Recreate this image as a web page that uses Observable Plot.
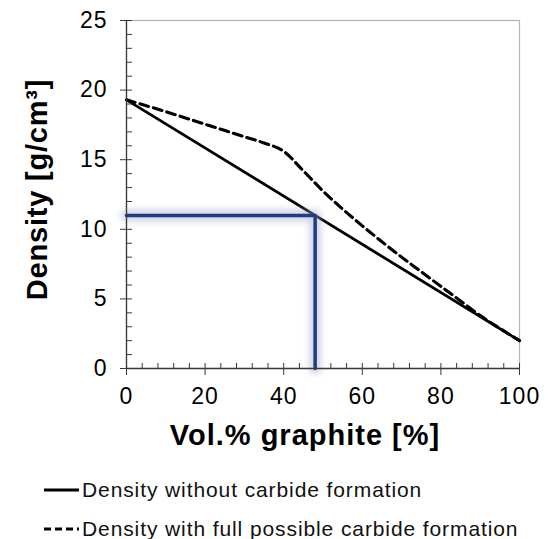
<!DOCTYPE html>
<html>
<head>
<meta charset="utf-8">
<script src="https://cdn.jsdelivr.net/npm/d3@7"></script>
<script src="https://cdn.jsdelivr.net/npm/@observablehq/plot@0.6"></script>
<style>
  html, body { margin: 0; padding: 0; background: #fff; overflow: hidden; }
  #chart svg { display: block; }
  #chart svg text { letter-spacing: 1px; }
  #legend { margin-top: 15px; padding-left: 44px; font-family: "Liberation Sans", Arial, sans-serif; font-size: 21px; letter-spacing: 0.9px; color: #111; }
  #legend .row { height: 39px; display: flex; align-items: center; }
  #legend svg { margin-right: 3px; flex: none; }
</style>
</head>
<body>
<div id="chart"></div>
<div id="legend"></div>
<script>
// ---- data ----
const xTicks = [0, 20, 40, 60, 80, 100];
const yTicks = [0, 5, 10, 15, 20, 25];
const xMinorTicks = d3.range(0, 101, 4);
const yMinorTicks = d3.range(0, 26, 1);

// Density without carbide formation (straight line)
const volNoCarbide = [0, 100];
const densNoCarbide = [19.3, 2.0];

// Density with full possible carbide formation
const volCarbide = [0, 10, 20, 30, 35, 40, 45, 50, 55, 60, 65, 70, 75, 80, 85, 90, 95, 100];
const densCarbide = [19.3, 18.45, 17.55, 16.65, 16.2, 15.6, 14.2, 12.75, 11.45, 10.25, 9.1, 8.0, 6.95, 5.9, 4.85, 3.8, 2.88, 2.0];

// read-off marker
const markerVol = 48;
const markerDens = 11;

const seriesNames = ["Density without carbide formation", "Density with full possible carbide formation"];
const xTitle = "Vol.% graphite [%]";
const yTitle = "Density [g/cm³]";

// ---- tables ----
const noCarbide = volNoCarbide.map((x, i) => ({x, y: densNoCarbide[i]}));
const carbide = volCarbide.map((x, i) => ({x, y: densCarbide[i]}));
const marker = [
  {x: 0, y: markerDens},
  {x: markerVol, y: markerDens},
  {x: markerVol, y: 0}
];

const font = "'Liberation Sans', Arial, sans-serif";
const axisColor = "#3a3a3a";
const glowColor = "#a4aed0";

const chart = Plot.plot({
  width: 552,
  height: 455,
  marginLeft: 126,
  marginRight: 33,
  marginTop: 20,
  marginBottom: 87,
  style: {fontFamily: font, fontSize: "23px", color: "#000", background: "#fff"},
  x: {domain: [0, 100]},
  y: {domain: [0, 25]},
  marks: [
    Plot.frame({stroke: "#b3b3b3", strokeWidth: 1.2}),
    Plot.line(noCarbide, {x: "x", y: "y", stroke: "#000", strokeWidth: 2.8}),
    Plot.line(carbide, {x: "x", y: "y", stroke: "#000", strokeWidth: 3.1, strokeDasharray: "9,5", curve: "monotone-x"}),
    Plot.line(marker, {x: "x", y: "y", stroke: glowColor, strokeWidth: 12, strokeOpacity: 0.5}),
    Plot.line(marker, {x: "x", y: "y", stroke: "#1f3d87", strokeWidth: 3.5}),
    Plot.ruleX([0], {stroke: axisColor, strokeWidth: 1.3}),
    Plot.ruleY([0], {stroke: axisColor, strokeWidth: 1.3}),
    Plot.axisY(yMinorTicks, {tickSize: -6, tickFormat: () => "", stroke: axisColor, label: null}),
    Plot.axisY(yTicks, {tickSize: 6, tickPadding: 13, fontSize: 23, stroke: axisColor, label: null}),
    Plot.axisX(xMinorTicks, {tickSize: -5, tickFormat: () => "", stroke: axisColor, label: null}),
    Plot.axisX(xTicks, {tickSize: 7, tickPadding: 12, fontSize: 23, stroke: axisColor, label: null}),
    Plot.text([xTitle], {frameAnchor: "bottom", dx: -18, dy: 76, fontSize: 29, fontWeight: "bold", fill: "#000"}),
    Plot.text([yTitle], {frameAnchor: "left", textAnchor: "middle", rotate: -90, dx: -89, dy: -5, fontSize: 29, fontWeight: "bold", fill: "#000"})
  ]
});
document.getElementById("chart").appendChild(chart);

// styling touches: glow blur and title letter spacing
const svg = d3.select(chart);
svg.selectAll(`[stroke="${glowColor}"]`).style("filter", "blur(3px)");
svg.selectAll("text").filter(function () { return this.textContent === yTitle; }).style("letter-spacing", "0.8px");

// ---- legend ----
const legend = d3.select("#legend");
const dashes = [null, "7,4"];
seriesNames.forEach((name, i) => {
  const row = legend.append("div").attr("class", "row");
  const s = row.append("svg").attr("width", 35).attr("height", 10);
  s.append("line").attr("x1", 0).attr("x2", 35).attr("y1", 5).attr("y2", 5)
    .attr("stroke", "#000").attr("stroke-width", 3)
    .attr("stroke-dasharray", dashes[i]);
  row.append("span").text(name);
});
</script>
</body>
</html>
